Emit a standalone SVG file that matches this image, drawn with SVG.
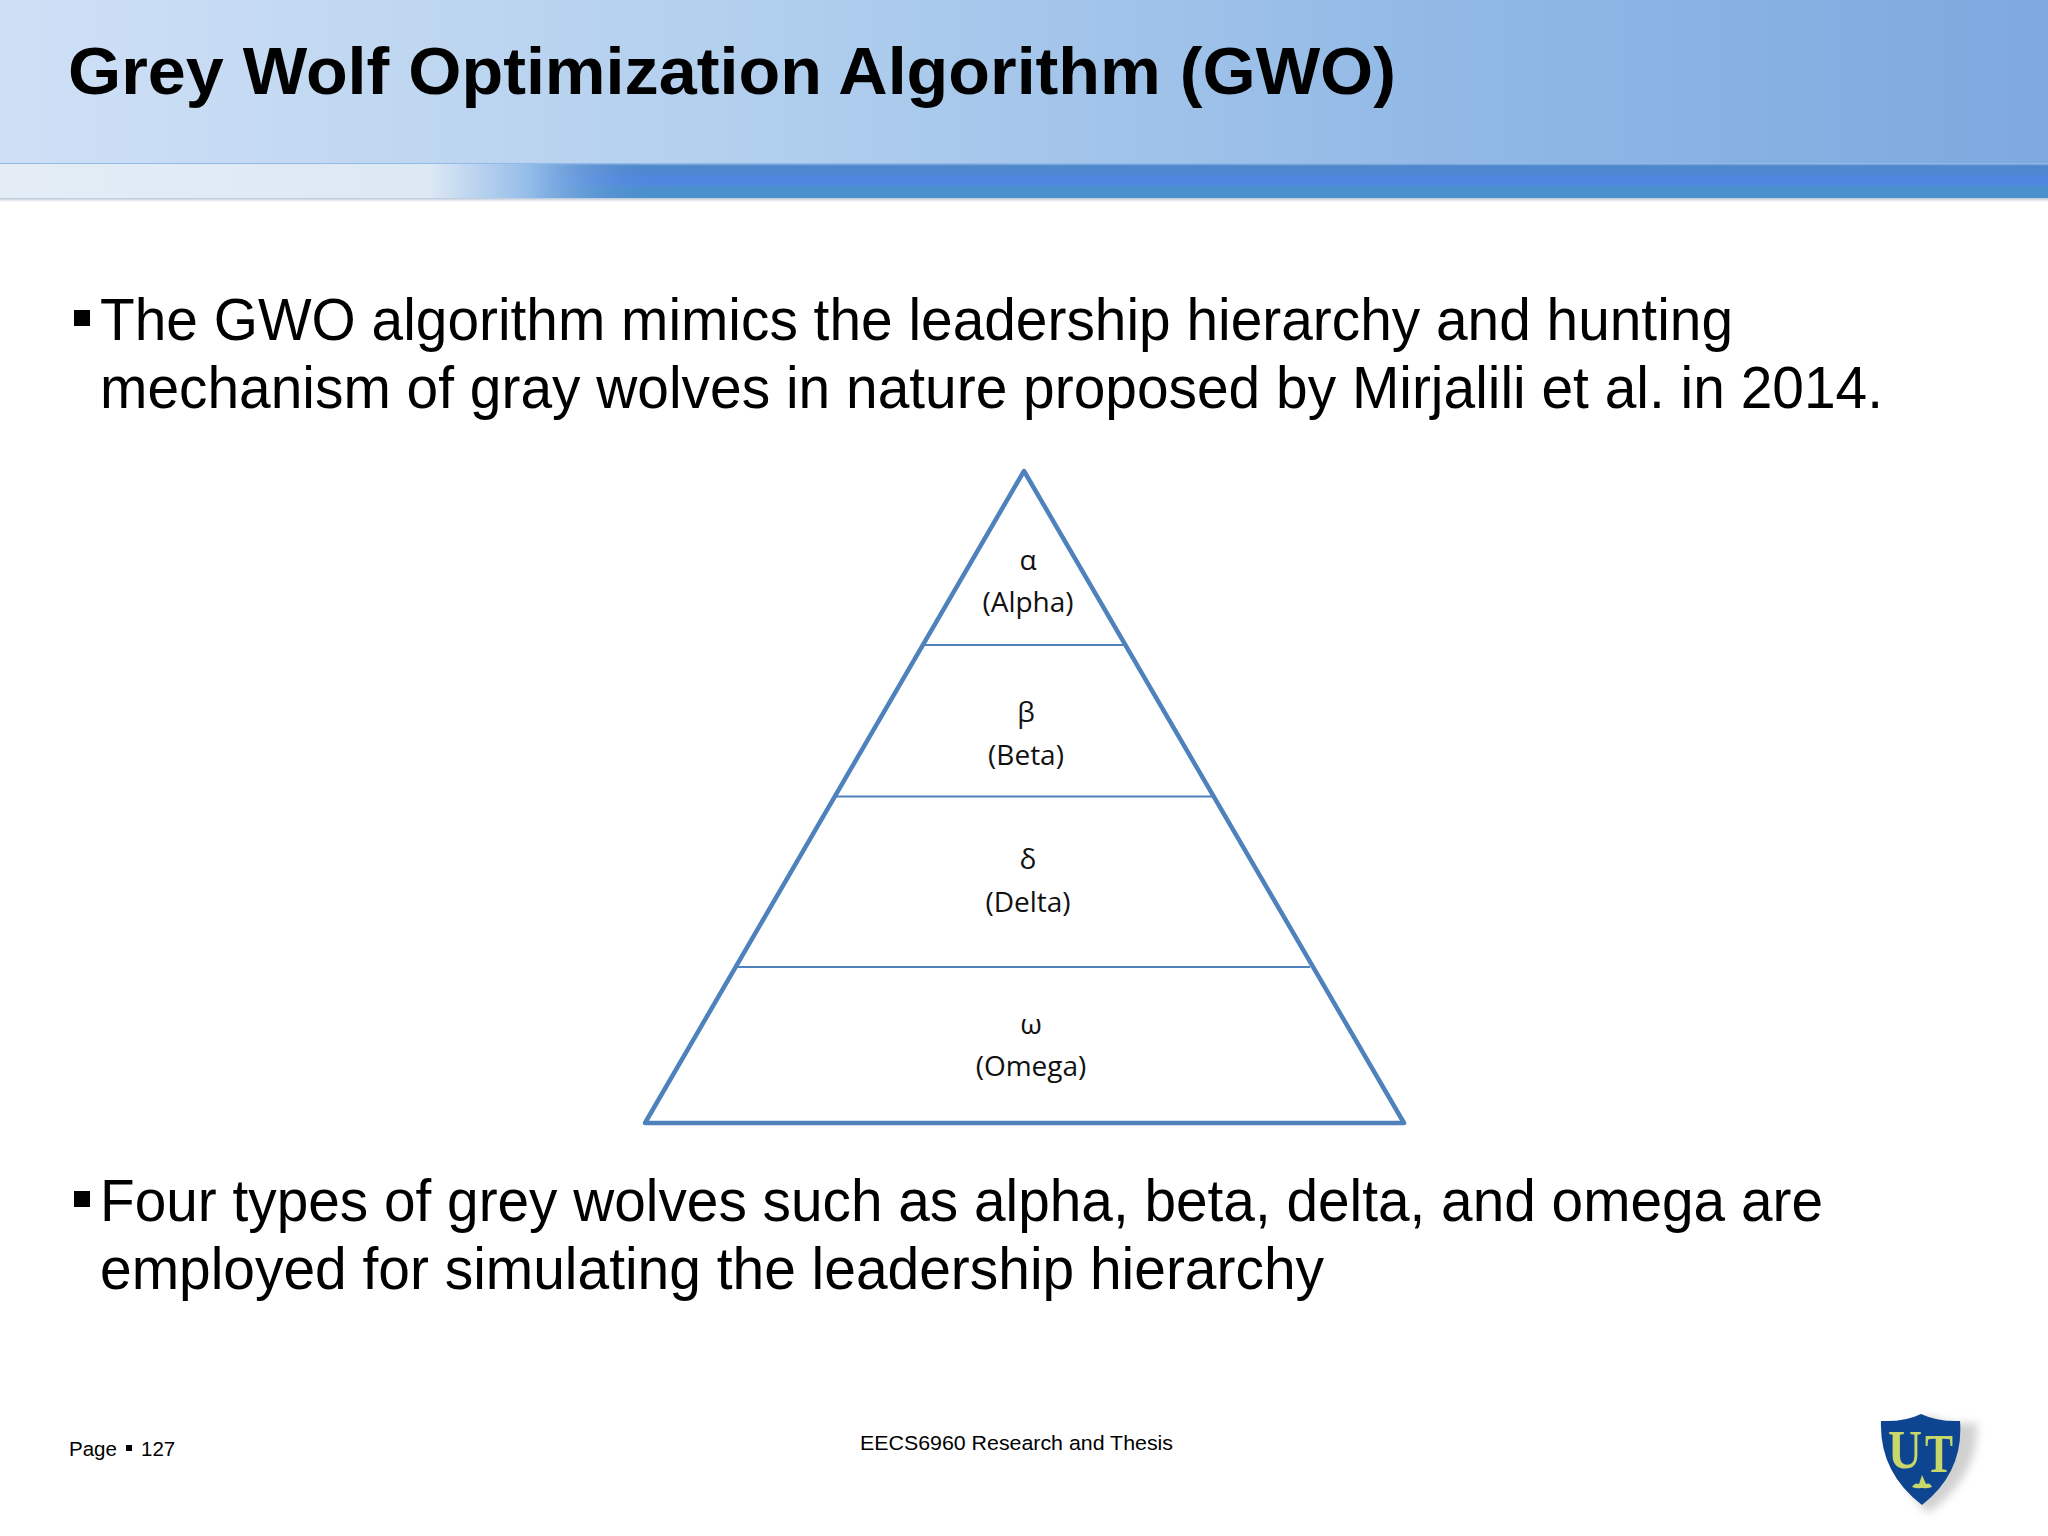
<svg xmlns="http://www.w3.org/2000/svg" width="2048" height="1536" viewBox="0 0 2048 1536">
<style>
.t{font-family:"Liberation Sans",Arial,sans-serif;fill:#000}
.b{font-size:59px}
.f{font-size:20.5px}
.l{font-family:"Open Sans","Noto Sans",sans-serif;font-size:28px;fill:#111;text-anchor:middle}
.edge{stroke:#4f81bd;fill:none}
.crest{font-family:"Liberation Serif",serif;font-size:55px;font-weight:700;fill:#c9d66a;text-anchor:middle}
</style>
<defs>
<linearGradient id="hdr" x1="0" x2="1" y1="0" y2="0"><stop offset="0" stop-color="#cfe0f6"/><stop offset=".2" stop-color="#bfd7f1"/><stop offset=".42" stop-color="#adcced"/><stop offset=".7" stop-color="#92b9e6"/><stop offset="1" stop-color="#7ea9df"/></linearGradient>
<linearGradient id="fadeEdge" x1="0" x2="1" y1="0" y2="0"><stop offset="0" stop-color="#e4edf6"/><stop offset=".65" stop-color="#dde8f4"/><stop offset=".8" stop-color="#94bdea"/><stop offset="1" stop-color="#4f86d0" stop-opacity="0"/></linearGradient>
<linearGradient id="band" x1="0" x2="0" y1="0" y2="1"><stop offset="0" stop-color="#9fc4ee"/><stop offset=".08" stop-color="#4e87cb"/><stop offset=".3" stop-color="#4f86d2"/><stop offset=".42" stop-color="#4f86e4"/><stop offset=".6" stop-color="#4f88dc"/><stop offset=".72" stop-color="#4a90cc"/><stop offset="1" stop-color="#4a90cc"/></linearGradient>
<linearGradient id="under" x1="0" x2="0" y1="0" y2="1"><stop offset="0" stop-color="#b9c6d8"/><stop offset="1" stop-color="#fff"/></linearGradient>
<filter id="blur"><feGaussianBlur stdDeviation="4"/></filter>
<filter id="soft"><feGaussianBlur stdDeviation=".6"/></filter>
</defs>
<rect width="2048" height="1536" fill="#fff"/>
<g id="header">
<rect width="2048" height="166" fill="url(#hdr)"/>
<rect y="163" width="2048" height="36" fill="url(#band)"/>
<rect y="164" width="660" height="35" fill="url(#fadeEdge)"/>
<rect y="198" width="2048" height="4" fill="url(#under)"/>
</g>
<text class="t" x="68" y="94" font-size="66" font-weight="700" textLength="1328" lengthAdjust="spacingAndGlyphs">Grey Wolf Optimization Algorithm (GWO)</text>
<g id="bullets">
<rect x="74" y="310" width="16" height="16"/>
<text class="t b" x="100" y="340" textLength="1633" lengthAdjust="spacingAndGlyphs">The GWO algorithm mimics the leadership hierarchy and hunting</text>
<text class="t b" x="100" y="408" textLength="1783" lengthAdjust="spacingAndGlyphs">mechanism of gray wolves in nature proposed by Mirjalili et al. in 2014.</text>
<rect x="74" y="1191" width="16" height="16"/>
<text class="t b" x="100" y="1221" textLength="1723" lengthAdjust="spacingAndGlyphs">Four types of grey wolves such as alpha, beta, delta, and omega are</text>
<text class="t b" x="100" y="1289" textLength="1224" lengthAdjust="spacingAndGlyphs">employed for simulating the leadership hierarchy</text>
</g>
<g id="pyramid">
<path class="edge" stroke-width="4.5" stroke-linejoin="round" d="M1024 471L1404 1123H645Z"/>
<g class="edge" stroke-width="2"><path d="M925 645H1124"/><path d="M836 796.500H1212"/><path d="M738 967H1310"/></g>
</g>
<g id="alpha"><text class="l" x="1028" y="570">α</text><text class="l" x="1028" y="612">(Alpha)</text></g>
<g id="beta"><text class="l" x="1026" y="722">β</text><text class="l" x="1026" y="765">(Beta)</text></g>
<g id="delta"><text class="l" x="1028" y="869">δ</text><text class="l" x="1028" y="912">(Delta)</text></g>
<g id="omega"><text class="l" x="1031" y="1034">ω</text><text class="l" x="1031" y="1076">(Omega)</text></g>
<g id="footer">
<text class="t f" x="69" y="1456">Page</text>
<rect x="126" y="1445" width="6" height="6"/>
<text class="t f" x="141" y="1456">127</text>
<text class="t f" x="860" y="1450" textLength="313" lengthAdjust="spacingAndGlyphs">EECS6960 Research and Thesis</text>
</g>
<g id="logo">
<path d="M1889 1424Q1905 1423 1922 1414Q1942 1423 1966 1421L1970 1421Q1972 1475 1921 1511Q1887 1482 1889 1424Z" fill="#8c8c8c" opacity=".4" filter="url(#blur)" transform="translate(7 2)"/>
<path d="M1881 1421Q1905 1422 1921 1414Q1938 1422 1960 1421Q1964 1472 1922 1505Q1879 1472 1881 1421Z" fill="#0f4490" filter="url(#soft)"/>
<text class="crest" x="1905" y="1468" textLength="34" lengthAdjust="spacingAndGlyphs">U</text>
<text class="crest" x="1939" y="1472" textLength="28" lengthAdjust="spacingAndGlyphs">T</text>
<path d="M1922 1475L1926 1484Q1930 1482 1932 1487Q1926 1489 1923 1488L1921 1488Q1917 1489 1912 1487Q1915 1482 1919 1484Z" fill="#c9d66a"/>
</g>
</svg>
